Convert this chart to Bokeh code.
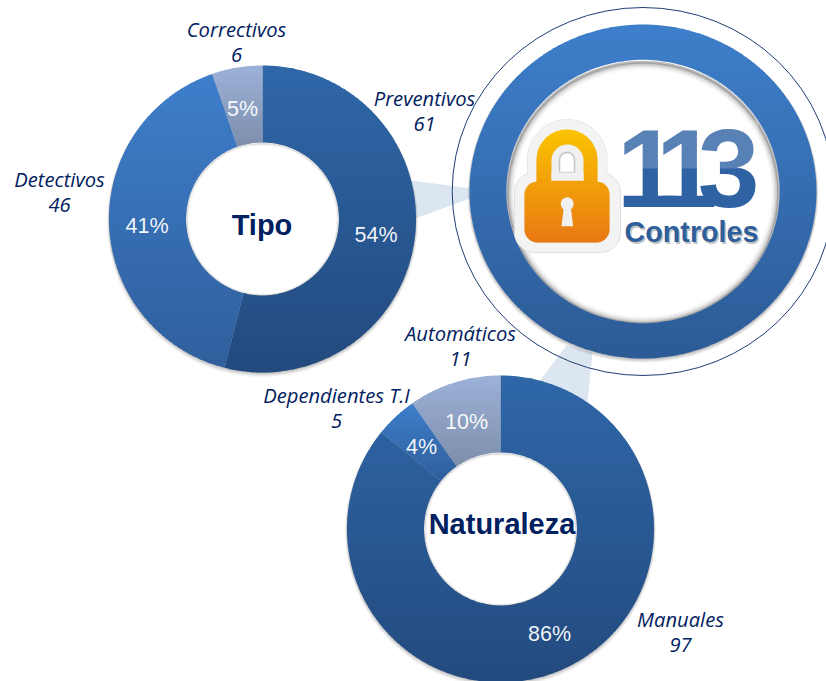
import numpy as np
from bokeh.embed import file_html
from bokeh.models import Range1d
from bokeh.plotting import figure
from bokeh.core.properties import value
from bokeh.resources import INLINE

# ---------- data ----------
tipo_labels = ["Preventivos", "Detectivos", "Correctivos"]
tipo_values = [61, 46, 6]
naturaleza_labels = ["Manuales", "Dependientes T.I", "Automáticos"]
naturaleza_values = [97, 5, 11]
total_label = "113"
total_caption = "Controles"

# ---------- styles ----------
W, H = 826, 681
DARK = ("#2f67a8", "#234a7e")
MID = ("#3e7ecb", "#2f5f9c")
PALE = ("#9db2d9", "#7d8eab")
SLICE_COLORS = (DARK, MID, PALE)
NAVY = "#002060"
LABEL_FONT = value("Open Sans")
ARIAL = value("Liberation Sans")

p = figure(width=W, height=H, x_range=Range1d(0, W), y_range=Range1d(H, 0),
           toolbar_location=None, output_backend="svg", min_border=0,
           background_fill_color="white", border_fill_color="white",
           outline_line_color=None)
p.axis.visible = False
p.grid.visible = False
p.styles = {"position": "absolute", "left": "0px", "top": "0px"}


def lerp_color(c0, c1, t):
    a = np.array([int(c0[i:i + 2], 16) for i in (1, 3, 5)], float)
    b = np.array([int(c1[i:i + 2], 16) for i in (1, 3, 5)], float)
    c = a + (b - a) * t
    return "#%02x%02x%02x" % tuple(int(round(v)) for v in c)


def clip_half(pts, y0, keep_above):
    out = []
    n = len(pts)
    inside = (lambda q: q[1] <= y0) if keep_above else (lambda q: q[1] >= y0)
    for i in range(n):
        a, b = pts[i], pts[(i + 1) % n]
        ia, ib = inside(a), inside(b)
        if ia:
            out.append(a)
        if ia != ib:
            t = (y0 - a[1]) / (b[1] - a[1])
            out.append((a[0] + t * (b[0] - a[0]), y0))
    return out


def gradient_patch(xs, ys, colors, top=None, bottom=None, step=3.0):
    """Fill a polygon with a vertical gradient through stacked clipped bands."""
    pts = list(zip(xs, ys))
    ymin, ymax = min(ys), max(ys)
    top = ymin if top is None else top
    bottom = ymax if bottom is None else bottom
    bx, by, bc = [], [], []
    y = ymin
    while y < ymax:
        y1 = min(y + step, ymax)
        poly = clip_half(clip_half(pts, y, False), min(y1 + 0.7, ymax), True)
        if len(poly) >= 3:
            bx.append([q[0] for q in poly])
            by.append([q[1] for q in poly])
            t = min(max((((y + y1) / 2) - top) / (bottom - top), 0), 1)
            bc.append(lerp_color(colors[0], colors[1], t))
        y = y1
    p.patches(bx, by, fill_color=bc, line_color=None)


def sector(cx, cy, r0, r1, a0, a1):
    """Annular sector; angles are clockwise from 12 o'clock, in radians."""
    n = max(int(abs(a1 - a0) * 60), 6)
    t = np.linspace(a0, a1, n)
    xs = np.r_[cx + r1 * np.sin(t), cx + r0 * np.sin(t[::-1])]
    ys = np.r_[cy - r1 * np.cos(t), cy - r0 * np.cos(t[::-1])]
    return xs.tolist(), ys.tolist()


def ellipse_pts(cx, cy, rx, ry, n=240):
    t = np.linspace(0, 2 * np.pi, n, endpoint=False)
    return (cx + rx * np.cos(t)).tolist(), (cy + ry * np.sin(t)).tolist()


def round_rect(x0, y0, x1, y1, r):
    xs, ys = [], []
    for cx, cy, a in ((x1 - r, y0 + r, -90), (x1 - r, y1 - r, 0), (x0 + r, y1 - r, 90), (x0 + r, y0 + r, 180)):
        t = np.radians(np.linspace(a, a + 90, 10))
        xs += (cx + r * np.cos(t)).tolist()
        ys += (cy + r * np.sin(t)).tolist()
    return xs, ys


def arch(x0, x1, ytop, ybot):
    r = (x1 - x0) / 2
    t = np.radians(np.linspace(180, 360, 40))
    xs = ((x0 + x1) / 2 + r * np.cos(t)).tolist() + [x1, x0]
    ys = (ytop + r + r * np.sin(t)).tolist() + [ybot, ybot]
    return xs, ys


def donut(cx, cy, r0, r1, vals):
    # soft drop shadow
    for d, a in ((4, 0.04), (3, 0.05), (2, 0.07), (1, 0.08)):
        p.ellipse(cx, cy + d * 0.7, width=2 * r1 + d, height=2 * r1 + d,
                  fill_color="#000000", fill_alpha=a, line_color=None)
    p.ellipse(cx, cy, width=2 * r0, height=2 * r0, fill_color="white", line_color=None)
    for d, a in ((1, 0.10), (2.5, 0.05), (4, 0.025)):
        p.ellipse(cx, cy + 0.5, width=2 * r0 - d, height=2 * r0 - d, fill_color=None,
                  line_color="#000000", line_alpha=a, line_width=1.5)
    total = sum(vals)
    a = 0.0
    for v, col in zip(vals, SLICE_COLORS):
        b = a + 2 * np.pi * v / total
        xs, ys = sector(cx, cy, r0, r1, a, b)
        gradient_patch(xs, ys, col)
        a = b


# ---------- connectors ----------
p.patch([410, 472, 472, 415], [180, 188, 197, 218], fill_color="#dce6f1", line_color=None)
p.patch([566, 592, 587, 538], [345, 352, 402, 382], fill_color="#dce6f1", line_color=None)

# ---------- donuts ----------
donut(262, 218.5, 76.5, 153.5, tipo_values)
donut(500, 528.5, 76.5, 153.5, naturaleza_values)

# ---------- big ring ----------
RCX, RCY = 642.5, 191
p.ellipse(RCX, RCY, width=2 * 190.8, height=2 * 184, fill_color="white",
          fill_alpha=0, line_color="#1f3f73", line_width=1)
for d, a in ((4, 0.05), (3, 0.06), (2, 0.08), (1, 0.10)):
    p.ellipse(RCX, RCY + d * 0.6, width=2 * 173.5 + d, height=2 * 167 + d,
              fill_color="#000000", fill_alpha=a, line_color=None)
p.ellipse(RCX, RCY, width=2 * 173.5, height=2 * 167, fill_color="white", line_color=None)
# inner shadow of the white disc
for d, a in ((2, 0.26), (5, 0.14), (8, 0.08), (11, 0.04), (14, 0.02)):
    p.ellipse(RCX, RCY + 1.5, width=2 * 136.7 - d, height=2 * 131.7 - d, fill_color=None,
              line_color="#000000", line_alpha=a, line_width=3)
ox, oy = ellipse_pts(RCX, RCY, 173.5, 167)
ix, iy = ellipse_pts(RCX, RCY, 136.7, 131.7)
# ring as a polygon with a seam on its right-hand side
ring_x = ox + [ox[0]] + [ix[0]] + ix[::-1]
ring_y = oy + [oy[0]] + [iy[0]] + iy[::-1]
gradient_patch(ring_x, ring_y, ("#3e7fcb", "#2c5b96"))

# ---------- padlock ----------
hx, hy = arch(527, 606.5, 119, 190)
p.patch(hx, hy, fill_color="#f3f3f3", line_color="#e8e8e8", line_width=1)
hx, hy = round_rect(514, 172, 620, 252, 20)
p.patch(hx, hy, fill_color="#f3f3f3", line_color="#e0e0e0", line_width=1)
hx, hy = arch(527.5, 606, 120, 190)
p.patch(hx, hy, fill_color="#f3f3f3", line_color=None)
LOCK = ("#fac400", "#e97814")
sx, sy = arch(536, 597, 129, 190)
gradient_patch(sx, sy, LOCK, top=129, bottom=242, step=2)
bx, by = round_rect(524, 181, 609, 242, 13)
gradient_patch(bx, by, LOCK, top=129, bottom=242, step=2)
ax, ay = arch(551, 583, 144, 180)
p.patch(ax, ay, fill_color="#f0f0f0", line_color=None)
ax, ay = arch(559, 574, 152, 172)
p.patch(ax, ay, fill_color="#ffffff", line_color="#c4c4c4", line_width=1.5)
p.patch([551, 583, 583, 551], [172, 172, 180, 180], fill_color="#f0f0f0", line_color=None)
p.ellipse(566.7, 203.3, width=13, height=13, fill_color="#f0f0f0", line_color=None)
p.patch([563.5, 570, 572.7, 561], [205, 205, 225.7, 225.7], fill_color="#f0f0f0", line_color=None)

# ---------- central texts ----------
digit_x = [647, 686, 728]
p.text(digit_x, [167.5] * 3, text=list(total_label), text_font=ARIAL,
       text_font_style="bold", text_font_size="111px", text_color="#2f62a3",
       text_align="center", text_baseline="middle")
p.quad(left=618, right=758, top=120, bottom=168, fill_color="white", fill_alpha=0.2, line_color=None)
p.text([692.5], [233], text=[total_caption], text_font=ARIAL, text_font_style="bold",
       text_font_size="28.7px", text_color="#9a9a9a", text_alpha=0.6,
       text_align="center", text_baseline="middle")
p.text([691], [231.5], text=[total_caption], text_font=ARIAL, text_font_style="bold",
       text_font_size="28.7px", text_color="#2f5f9a",
       text_align="center", text_baseline="middle")

p.text([261.5], [224], text=["Tipo"], text_font=ARIAL, text_font_style="bold", text_font_size="29px",
       text_color=NAVY, text_align="center", text_baseline="middle")
p.text([501.5], [523], text=["Naturaleza"], text_font=ARIAL, text_font_style="bold", text_font_size="29px",
       text_color=NAVY, text_align="center", text_baseline="middle")


def pct(vals):
    return ["%d%%" % round(100 * v / sum(vals)) for v in vals]


def pct_labels(xs, ys, vals):
    p.text(xs, ys, text=pct(vals), text_font=ARIAL, text_font_size="21.5px", text_color="white",
           text_align="center", text_baseline="middle", text_alpha=0.95)


pct_labels([375.5, 146.5, 242], [234, 225, 108], tipo_values)
pct_labels([549, 421, 466], [633, 446, 421], naturaleza_values)

name_x = [424, 59, 236, 680, 336, 460]
name_y = [97, 178, 28, 618, 394, 332]
all_names = tipo_labels + naturaleza_labels
all_vals = tipo_values + naturaleza_values
p.text(name_x, name_y, text=all_names, text_font=LABEL_FONT, text_font_style="italic",
       text_font_size="20.2px", text_color=NAVY, text_align="center", text_baseline="middle")
p.text(name_x, [y + 26.5 for y in name_y], text=[str(v) for v in all_vals], text_font=LABEL_FONT,
       text_font_style="italic", text_font_size="20.2px", text_color=NAVY,
       text_align="center", text_baseline="middle")

open("out.html", "w").write(file_html(p, INLINE))
